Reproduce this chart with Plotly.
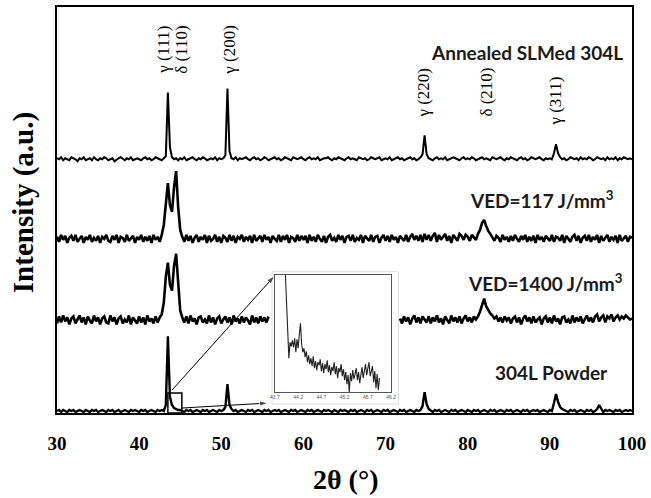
import numpy as np
import plotly.graph_objects as go

# 2-theta grid (degrees), 0.25 deg step from 30 to 100
two_theta = [30 + 0.25 * i for i in range(281)]

# Diffracted intensity above each pattern's own baseline (a.u.)
annealed = [
    1, 0, 2, -1, 1, 0, -1, 2, 1, 0, -2, 1, 0, 2, -1, 0, 1, -1, 2, 0,
    -1, 1, 0, 2, 1, -1, 0, 1, -2, 0, 1, 2, 0, -1, 1, 0, 2, -1, 0, 1,
    0, -1, 1, 2, 0, 1, -1, 0, 2, 1, 0, -1, 1, 3, 67, 12, 2, 0, 1, -1,
    1, 0, 2, -1, 0, 1, 2, 0, -1, 1, 0, 2, 1, -1, 0, 1, 0, 2, -1, 1,
    0, 1, 4, 71, 8, 1, 0, 2, -1, 1, 0, 1, 2, 0, -1, 1, 2, 0, 1, -1,
    0, 2, 1, -1, 0, 1, 2, 0, 1, -1, 0, 2, 1, 0, -1, 2, 1, 0, 1, 2,
    0, -1, 1, 2, 0, 1, 0, 2, -1, 0, 1, 1, 2, 0, -1, 1, 0, 2, 1, 0,
    -1, 1, 2, 0, 1, 0, -1, 2, 1, 0, 1, -1, 0, 2, 1, 0, 1, 2, -1, 0,
    1, 0, 2, -1, 0, 1, 2, 0, 1, -1, 0, 1, 2, 0, 1, -1, 0, 2, 5, 24,
    5, 1, 0, -1, 1, 2, 0, 1, 0, 2, -1, 0, 1, 2, 1, 0, -1, 1, 2, 0,
    1, 0, 2, 1, -1, 0, 1, 2, 0, 1, 0, -1, 2, 1, 0, 1, 2, 0, -1, 1,
    0, 2, 1, 0, -1, 1, 2, 0, 1, -1, 0, 2, 1, 0, 1, 2, 0, -1, 1, 0,
    1, 0, 6, 15, 6, 2, 0, 1, -1, 0, 2, 1, 0, 1, -1, 2, 0, 1, 0, 2,
    1, -1, 0, 2, 1, 0, 1, -1, 2, 0, 1, 0, 2, -1, 1, 0, 2, 1, 0, 1,
    0,
]

ved_117 = [
    2, -3, 4, -1, 3, -4, 1, 3, -2, 4, -3, 0, 3, -4, 2, -1, 4, -3, 1, -2,
    3, -4, 2, 0, 4, -2, -3, 3, -1, 4, -4, 2, 1, -3, 4, -2, 0, 3, -4, 2,
    -1, 4, -3, 2, -2, 3, -4, 4, -1, 2, -3, 4, 14, 38, 56, 34, 27, 52, 68, 32,
    9, 2, -3, 4, -2, 3, -4, 1, 4, -3, 2, -1, 4, -4, 3, -2, 0, 4, -3, 2,
    -4, 3, 1, -3, 4, -2, 3, -4, 2, 0, 4, -3, 2, -1, 3, -4, 4, -2, 1, 3,
    -3, 4, -1, 2, -4, 3, 0, -2, 4, -3, 3, -1, 4, -4, 2, 1, -3, 4, -2, 3,
    -1, 3, -4, 4, -2, 2, -3, 4, 0, -3, 3, -4, 2, 4, -2, 1, -3, 4, -1, 3,
    -4, 2, 3, -2, 4, -3, 1, -1, 4, -4, 3, 0, -2, 4, -3, 2, 3, -4, 1, 4,
    -2, 3, -3, 4, -1, 2, -4, 3, 1, -2, 4, -3, 2, 5, -1, 3, -2, 4, -3, 5,
    -1, 4, -2, 3, 6, -3, 4, -1, 2, 5, -2, 3, -4, 4, 1, -2, 5, 3, -1, 4,
    2, -2, 4, 1, -1, 5, 9, 16, 19, 13, 8, 5, 2, -2, 3, 1, -3, 4, -1, 2,
    -3, 3, -2, 4, 0, -3, 3, -1, 4, -3, 2, -2, 3, -4, 4, -1, 2, -3, 3, 0,
    -2, 4, -3, 2, 1, -2, 4, -4, 3, 0, -3, 2, 4, -2, 3, -4, 1, 3, -2, 4,
    -3, 2, -1, 4, -4, 3, -2, 1, 4, -3, 2, -1, 3, -4, 4, -2, 1, 3, -3, 2,
    1,
]

N = None
ved_1400 = [
    -3, 4, -2, 5, -1, 3, -4, 2, 4, -3, 1, 5, -2, 3, -4, 4, 0, -3, 5, -1,
    3, -4, 2, 4, -2, -3, 5, -1, 3, -4, 2, 4, -3, 1, -2, 5, -4, 3, 0, -3,
    4, -2, 3, -4, 5, -1, 2, -3, 4, -2, 3, 6, 18, 44, 58, 36, 30, 55, 67, 34,
    10, 3, -2, 4, -3, 5, -1, 2, -4, 3, 4, -2, 1, -3, 5, -2, 3, -4, 2, 4,
    -3, 1, 4, -2, 3, -4, 5, -1, 2, -3, 4, -2, 3, 0, -4, 5, -2, 3, -3, 4,
    -1, 3, -2, 4, N, N, N, N, N, N, N, N, N, N, N, N, N, N, N, N,
    N, N, N, N, N, N, N, N, N, N, N, N, N, N, N, N, N, N, N, N,
    N, N, N, N, N, N, N, N, N, N, N, N, N, N, N, N, N, N, N, N,
    N, N, N, N, N, N, N, 2, -3, 4, -1, 3, -4, 2, 5, -2, 3, -3, 4, 1,
    -2, 4, -3, 3, -1, 5, -2, 2, -4, 4, 0, -3, 5, -1, 3, -2, 4, -3, 2, 5,
    -1, 3, -2, 4, 1, 4, 9, 16, 22, 14, 10, 7, 5, 2, 4, -1, 3, -2, 4, 0,
    3, -3, 2, 4, -2, 3, -4, 2, 5, -1, 3, -3, 4, -2, 1, 3, -4, 2, 4, -2,
    3, -3, 5, -1, 2, -4, 3, 4, -2, 1, -3, 5, -2, 3, -1, 4, -3, 2, 5, -1,
    3, -2, 4, 6, -1, 3, 5, -2, 4, 2, 6, -1, 3, 5, 1, 4, 2, 5, 3, 1,
    2,
]

powder = [
    0, 1, -1, 1, 0, -1, 1, 0, 1, -1, 0, 1, 0, -1, 1, 0, -1, 1, 0, 1,
    -1, 0, 1, 0, -1, 1, 0, 1, -1, 0, 1, -1, 0, 1, 0, -1, 1, 0, 1, 0,
    -1, 1, 0, 1, -1, 0, 1, 0, -1, 1, 0, 1, 0, 6, 75, 14, 6, 3, 2, 1,
    1, 0, -1, 1, 0, 1, -1, 0, 1, 0, -1, 1, 0, 1, -1, 0, 1, 0, -1, 1,
    0, 1, 4, 27, 6, 2, 0, 1, -1, 0, 1, 0, -1, 1, 0, 1, -1, 0, 1, 0,
    -1, 1, 0, 1, -1, 0, 1, 0, 1, -1, 0, 1, 0, -1, 1, 0, 1, -1, 0, 1,
    0, -1, 1, 0, 1, -1, 0, 1, 0, -1, 1, 0, 1, 0, -1, 1, 0, -1, 1, 0,
    1, 0, -1, 1, 0, 1, -1, 0, 1, 0, -1, 1, 0, 1, -1, 0, 1, 0, -1, 1,
    0, 1, -1, 0, 1, 0, -1, 1, 0, 1, -1, 0, 1, 0, -1, 1, 0, 1, 5, 19,
    7, 2, 0, -1, 1, 0, 1, -1, 0, 1, 0, -1, 1, 0, 1, -1, 0, 1, 0, -1,
    1, 0, -1, 1, 0, 1, -1, 0, 1, 0, -1, 1, 0, 1, -1, 0, 1, 0, -1, 1,
    0, 1, -1, 0, 1, 0, -1, 1, 0, 1, -1, 0, 1, 0, 1, -1, 0, 1, 0, -1,
    1, 0, 8, 17, 9, 4, 2, 1, 0, -1, 1, 0, 1, -1, 0, 1, 0, -1, 1, 0,
    1, -1, 0, 2, 6, 3, -1, 1, 0, 1, 0, -1, 1, 0, 1, -1, 0, 1, 0, 1,
    0,
]

# Vertical stacking offsets of the four patterns
series_names = ["Annealed SLMed 304L", "VED=117 J/mm³", "VED=1400 J/mm³", "304L Powder"]
series_values = [annealed, ved_117, ved_1400, powder]
offsets = [255, 175, 93, 2]

# Zoomed detail of the powder pattern just above the main austenite peak
inset_two_theta = [round(43.9 + 0.025 * i, 3) for i in range(83)]
inset_intensity = [
    125, 118, 90, 58, 34, 50, 46, 52, 45, 54, 40, 53, 44, 58, 69, 48, 40, 44, 35, 41,
    30, 37, 28, 34, 26, 36, 24, 31, 22, 30, 27, 33, 21, 29, 19, 28, 23, 32, 20, 27,
    17, 25, 21, 30, 18, 26, 14, 24, 20, 28, 16, 23, 12, 20, 8, 17, 0, 19, 11, 22,
    13, 18, 24, 12, 20, 9, 18, 25, 14, 21, 28, 17, 23, 30, 16, 22, 26, 10, 21, 4,
    18, 2, 14,
]
inset_ticks = [43.7, 44.2, 44.7, 45.2, 45.7, 46.2]

# Peak indexing: label, label position (2theta, height)
peak_labels = ["γ (111)", "δ (110)", "γ (200)", "γ (220)", "δ (210)", "γ (311)"]
peak_label_x = [43.03, 45.22, 51.06, 74.68, 82.35, 90.75]
peak_label_y = [365, 365, 365, 322, 322, 313]

# Pointers from the marked region to the inset panel: (tail x, tail y, head x, head y)
pointer_tail_x = [44.0, 45.2]
pointer_tail_y = [23, 5]
pointer_head_x = [56.5, 55.7]
pointer_head_y = [138, 10]

x_ticks = [30, 40, 50, 60, 70, 80, 90, 100]

fig = go.Figure()

widths = [2.0, 2.6, 2.6, 2.4]
for name, vals, off, w in zip(series_names, series_values, offsets, widths):
    y = [None if v is None else v + off for v in vals]
    fig.add_trace(go.Scatter(
        x=two_theta, y=y, mode="lines", name=name,
        line=dict(color="black", width=w), connectgaps=False, showlegend=False,
    ))

fig.add_trace(go.Scatter(
    x=inset_two_theta, y=inset_intensity, mode="lines",
    line=dict(color="#222", width=1.1), xaxis="x2", yaxis="y2", showlegend=False,
))

# pointer arrows drawn as two-point lines ending in an arrow marker
for tx, ty, hx, hy in zip(pointer_tail_x, pointer_tail_y, pointer_head_x, pointer_head_y):
    fig.add_trace(go.Scatter(
        x=[tx, hx], y=[ty, hy], mode="lines+markers",
        line=dict(color="black", width=1),
        marker=dict(symbol=["circle", "arrow"], size=[0, 9], color="black",
                    angleref="previous", standoff=0),
        showlegend=False, hoverinfo="skip",
    ))

serif = "Liberation Serif, Times New Roman, serif"
sans = "Lato, Carlito, Calibri, sans-serif"

fig.update_layout(
    width=651, height=498,
    margin=dict(l=57, r=19, t=5, b=85),
    paper_bgcolor="white", plot_bgcolor="white",
    xaxis=dict(
        range=[30, 100], tickvals=x_ticks, ticks="", showgrid=False, zeroline=False,
        showline=True, mirror=True, linecolor="black", linewidth=2,
        tickfont=dict(family=serif, size=19, color="black", weight="bold"),
        ticklabelstandoff=12,
    ),
    yaxis=dict(
        range=[0, 408], showticklabels=False, ticks="", showgrid=False, zeroline=False,
        showline=True, mirror=True, linecolor="black", linewidth=2,
    ),
    xaxis2=dict(
        domain=[0.379, 0.581], anchor="y2", range=[43.7, 46.2], tickvals=inset_ticks,
        ticktext=[str(t) for t in inset_ticks], ticks="", showgrid=False, zeroline=False,
        showline=True, mirror=True, linecolor="#555", linewidth=1.2,
        tickfont=dict(family="Liberation Sans", size=5, color="#555"),
    ),
    yaxis2=dict(
        domain=[0.0515, 0.341], anchor="x2", range=[0, 118], showticklabels=False,
        ticks="", showgrid=False, zeroline=False,
        showline=True, mirror=True, linecolor="#555", linewidth=1.2,
    ),
)

# white panel behind the inset, with a faint outer border
fig.add_shape(type="rect", xref="paper", yref="paper",
              x0=0.374, x1=0.594, y0=0.022, y1=0.348,
              line=dict(color="#dddddd", width=1), fillcolor="white", layer="below")

# box marking the zoomed region on the powder pattern
fig.add_shape(type="rect", xref="x", yref="y", x0=43.5, x1=45.2, y0=0, y1=20,
              line=dict(color="black", width=1.5))

# peak indices
for lab, px, py in zip(peak_labels, peak_label_x, peak_label_y):
    fig.add_annotation(x=px, y=py, xref="x", yref="y", text=lab, showarrow=False,
                       textangle=-90, xanchor="center", yanchor="middle",
                       font=dict(family=serif, size=17, color="black"))

# pattern names
name_pos = [(0.988, 0.889, "right"), (0.972, 0.527, "right"),
            (0.988, 0.322, "right"), (0.86, 0.1005, "center")]
name_text = ["Annealed SLMed 304L", "VED=117 J/mm<sup>3</sup>",
             "VED=1400 J/mm<sup>3</sup>", "304L Powder"]
for (nx, ny, anc), txt in zip(name_pos, name_text):
    fig.add_annotation(x=nx, y=ny, xref="paper", yref="paper", text=txt, showarrow=False,
                       xanchor=anc, yanchor="middle",
                       font=dict(family=sans, size=19, color="#1a1a1a", weight="bold"))

# axis titles
fig.add_annotation(x=0.5026, y=-0.164, xref="paper", yref="paper", text="2θ (°)",
                   showarrow=False, xanchor="center", yanchor="middle",
                   font=dict(family=serif, size=28, color="black", weight="bold"))
fig.add_annotation(x=-0.059, y=0.517, xref="paper", yref="paper", text="Intensity (a.u.)",
                   showarrow=False, textangle=-90, xanchor="center", yanchor="middle",
                   font=dict(family=serif, size=29, color="black", weight="bold"))

fig.write_html("out.html")
